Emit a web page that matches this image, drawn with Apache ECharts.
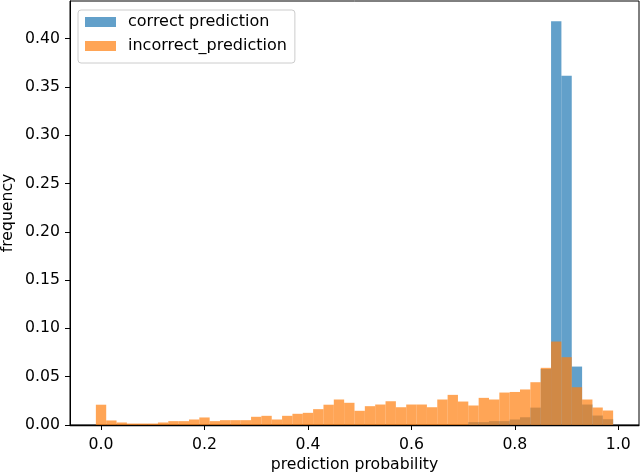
<!DOCTYPE html>
<html><head><meta charset="utf-8">
<script src="https://cdn.jsdelivr.net/npm/echarts@6/dist/echarts.min.js"></script>
<style>html,body{margin:0;padding:0;background:#fff}#c{width:640px;height:473px}</style>
</head><body><div id="c"></div>
<script>
// Histogram bins: 50 bins of width 0.02 starting at -0.01
const binStart = -0.01;
const binWidth = 0.02;
const seriesNames = ['correct prediction', 'incorrect_prediction'];
const correctFreq = [
  0, 0, 0, 0, 0, 0, 0, 0, 0, 0,
  0, 0, 0, 0, 0, 0, 0, 0, 0, 0,
  0, 0, 0, 0, 0, 0, 0, 0, 0, 0,
  0, 0, 0, 0, 0, 0, 0.003, 0.003, 0.004, 0.004,
  0.0057, 0.008, 0.018, 0.058, 0.418, 0.3615, 0.0605, 0.0212, 0.0098, 0.006
];
const incorrectFreq = [
  0.021, 0.0047, 0.0026, 0.0015, 0.0015, 0.0015, 0.0026, 0.004, 0.004, 0.0057,
  0.0078, 0.004, 0.005, 0.005, 0.005, 0.0085, 0.0095, 0.0057, 0.0095, 0.0116,
  0.0126, 0.0164, 0.021, 0.0264, 0.023, 0.0147, 0.0195, 0.0212, 0.0246, 0.0184,
  0.0212, 0.0212, 0.0184, 0.0264, 0.0312, 0.0243, 0.0202, 0.0281, 0.0264, 0.0336,
  0.0342, 0.0368, 0.0443, 0.0592, 0.0864, 0.0702, 0.0391, 0.0264, 0.0181, 0.015
];
const xTicks = [0.0, 0.2, 0.4, 0.6, 0.8, 1.0];
const yTicks = [0.00, 0.05, 0.10, 0.15, 0.20, 0.25, 0.30, 0.35, 0.40];
const xLimits = [-0.06, 1.04];
const yLimits = [0, 0.439];

const binLeft = correctFreq.map((_, i) => binStart + i * binWidth);
function toData(freq) { return freq.map((v, i) => [binLeft[i], binLeft[i] + binWidth, v]); }

const FONT = 'DejaVu Sans';
function renderBar(params, api) {
  const p0 = api.coord([api.value(0), api.value(2)]);
  const p1 = api.coord([api.value(1), 0]);
  return {
    type: 'rect',
    shape: { x: p0[0], y: p0[1], width: p1[0] - p0[0], height: p1[1] - p0[1] },
    style: { fill: api.visual('color') }
  };
}

const chart = echarts.init(document.getElementById('c'), null, { renderer: 'canvas' });
chart.setOption({
  animation: false,
  backgroundColor: '#fff',
  grid: { left: 70, right: 1, top: 1, bottom: 48, containLabel: false, outerBoundsMode: 'none',
    show: true, borderColor: '#000', borderWidth: 1, backgroundColor: 'transparent' },
  legend: {
    orient: 'vertical', left: 78, top: 10,
    itemWidth: 31, itemHeight: 10, itemGap: 6,
    padding: [3, 8, 8, 7],
    borderColor: '#cccccc', borderWidth: 1, borderRadius: 3,
    backgroundColor: 'rgba(255,255,255,0.8)',
    selectedMode: false,
    textStyle: { fontFamily: FONT, fontSize: 16, color: '#000', lineHeight: 18, padding: [0, 0, 0, 7] },
    data: seriesNames.map(n => ({ name: n, icon: 'rect' }))
  },
  xAxis: {
    type: 'value', min: xLimits[0], max: xLimits[1],
    name: 'prediction probability', nameLocation: 'middle', nameGap: 32, nameMoveOverlap: false,
    nameTextStyle: { fontFamily: FONT, fontSize: 15.7, color: '#000' },
    axisLine: { show: true, onZero: false, lineStyle: { color: '#000', width: 1.3 } },
    axisTick: { show: true, customValues: xTicks, length: 5, lineStyle: { color: '#000' } },
    axisLabel: { customValues: xTicks, formatter: v => v.toFixed(1), fontFamily: FONT, fontSize: 15.7, color: '#000', margin: 12 },
    splitLine: { show: false }
  },
  yAxis: {
    type: 'value', min: yLimits[0], max: yLimits[1],
    name: 'frequency', nameLocation: 'middle', nameGap: 54, nameRotate: 90, nameMoveOverlap: false,
    nameTextStyle: { fontFamily: FONT, fontSize: 15.7, color: '#000' },
    axisLine: { show: true, onZero: false, lineStyle: { color: '#000', width: 1 } },
    axisTick: { show: true, customValues: yTicks, length: 5, lineStyle: { color: '#000' } },
    axisLabel: { customValues: yTicks, formatter: v => v.toFixed(2), fontFamily: FONT, fontSize: 15.7, color: '#000', margin: 10 },
    splitLine: { show: false }
  },
  series: [
    { name: seriesNames[0], type: 'custom', renderItem: renderBar, encode: { x: [0, 1], y: 2 },
      itemStyle: { color: 'rgba(31,119,180,0.7)' }, data: toData(correctFreq) },
    { name: seriesNames[1], type: 'custom', renderItem: renderBar, encode: { x: [0, 1], y: 2 },
      itemStyle: { color: 'rgba(255,127,14,0.7)' }, data: toData(incorrectFreq) }
  ]
});
</script></body></html>
